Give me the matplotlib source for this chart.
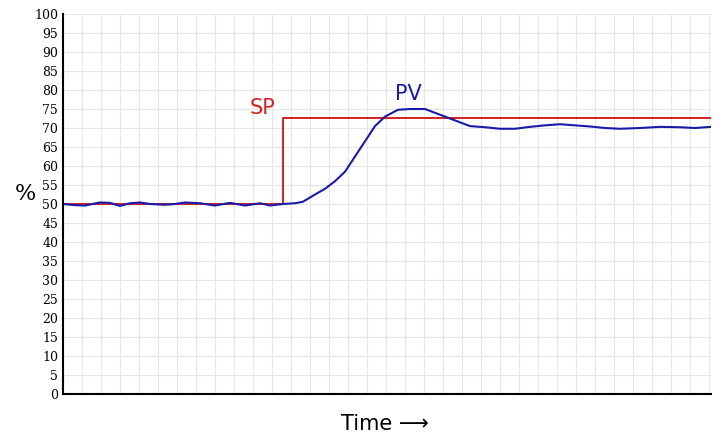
import numpy as np
import matplotlib
matplotlib.use("Agg")
import matplotlib.pyplot as plt

# Zeit in willkuerlichen Einheiten (0..648), Werte in %
pv_time = [0, 12, 22, 37, 47, 57, 67, 77, 87, 102, 112, 122, 137, 152, 167, 182, 197, 207,
           220, 232, 240, 252, 262, 272, 282, 292, 302, 312, 322, 335, 347, 362, 377, 392,
           407, 422, 437, 452, 467, 482, 497, 512, 527, 542, 557, 577, 597, 617, 632, 648]
pv_value = [50.0, 49.7, 49.6, 50.4, 50.3, 49.5, 50.2, 50.4, 50.0, 49.8, 50.0, 50.4, 50.2,
            49.6, 50.3, 49.6, 50.2, 49.6, 50.0, 50.2, 50.6, 52.5, 54.0, 56.0, 58.5, 62.5,
            66.5, 70.5, 73.0, 74.8, 75.0, 75.0, 73.5, 72.0, 70.5, 70.2, 69.8, 69.8, 70.3,
            70.7, 71.0, 70.7, 70.4, 70.0, 69.8, 70.0, 70.3, 70.2, 70.0, 70.3]
sp_time = [0, 220, 220, 648]
sp_value = [50.0, 50.0, 72.7, 72.7]


def main() -> None:
    fig = plt.figure(figsize=(7.2, 4.42), dpi=100)
    ax = fig.add_axes([0.0875, 0.1086, 0.9, 0.8597])
    ax.plot(sp_time, sp_value, color="#d42020", lw=1.4)
    ax.plot(pv_time, pv_value, color="#1a1aaa", lw=1.5)
    ax.set_xlim(0, 648)
    ax.set_ylim(0, 100)
    ax.set_yticks(np.arange(0, 101, 5))
    ax.set_xticks(np.arange(0, 649, 19))
    ax.tick_params(axis="x", length=0, labelbottom=False)
    ax.tick_params(axis="y", length=0, labelsize=9)
    for lbl in ax.get_yticklabels():
        lbl.set_family("DejaVu Serif")
    ax.grid(True, color="#e6e6e6", lw=0.8)
    for side in ("top", "right"):
        ax.spines[side].set_visible(False)
    ax.spines["left"].set_linewidth(1.5)
    ax.spines["bottom"].set_linewidth(1.5)
    ax.text(187, 73.8, "SP", color="#d42020", fontsize=15)
    ax.text(332, 77.5, "PV", color="#1a1aaa", fontsize=15)
    fig.text(0.02, 0.56, "%", fontsize=16, family="DejaVu Serif", va="center")
    fig.text(0.535, 0.04, "Time \u27f6", fontsize=15, ha="center", va="center")
    fig.savefig("out.png", dpi=100)
    plt.close(fig)


if __name__ == "__main__":
    main()
